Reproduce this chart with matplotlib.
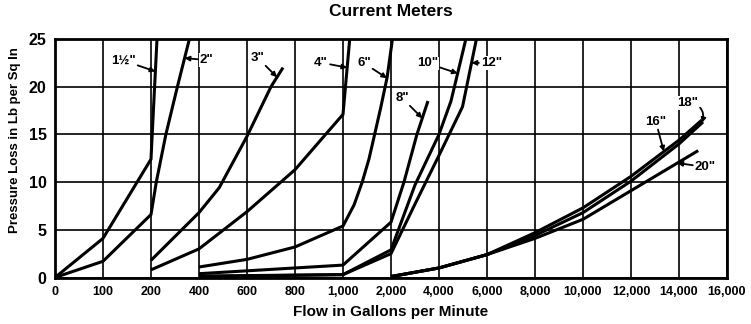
import numpy as np
import matplotlib.pyplot as plt

# x axis is stepped: every tick is the same distance apart
tick_flows = [0, 100, 200, 400, 600, 800, 1000, 2000, 4000, 6000, 8000, 10000, 12000, 14000, 16000]
tick_labels = ['0', '100', '200', '400', '600', '800', '1,000', '2,000', '4,000',
               '6,000', '8,000', '10,000', '12,000', '14,000', '16,000']
y_ticks = [0, 5, 10, 15, 20, 25]

# meter curves (flow gpm, pressure loss psi)
flow_1h = [0, 100, 200, 205, 225]
loss_1h = [0, 4.1, 12.4, 15, 25]
flow_2 = [0, 100, 200, 222, 262, 310, 360]
loss_2 = [0, 1.7, 6.6, 10, 15, 20, 25]
flow_3 = [200, 400, 484, 600, 700, 750]
loss_3 = [1.8, 6.8, 9.4, 14.8, 20, 22]
flow_4 = [200, 400, 600, 800, 1000, 1140]
loss_4 = [0.8, 3.0, 6.9, 11.3, 17.1, 25]
flow_6 = [400, 600, 800, 1000, 1230, 1400, 1540, 1650, 1790, 1920, 2060]
loss_6 = [1.1, 1.9, 3.2, 5.4, 7.6, 10.0, 12.4, 14.8, 17.9, 21.0, 25]
flow_8 = [400, 1000, 2000, 2540, 3080, 3540]
loss_8 = [0.4, 1.3, 5.8, 10, 15, 18.5]
flow_10 = [400, 1000, 2000, 3000, 4000, 4500, 5120]
loss_10 = [0.15, 0.3, 2.9, 9.7, 15.0, 18.5, 25]
flow_12 = [400, 1000, 2000, 3000, 4000, 4980, 5560]
loss_12 = [0.1, 0.3, 2.5, 7.7, 12.8, 17.9, 25]
flow_16 = [2000, 4000, 6000, 8000, 10000, 12000, 14000, 14950]
loss_16 = [0.1, 1.0, 2.4, 4.7, 7.3, 10.6, 14.4, 16.5]
flow_18 = [2000, 4000, 6000, 8000, 10000, 12000, 14000, 15000]
loss_18 = [0.1, 1.0, 2.4, 4.4, 6.8, 10.1, 14.0, 16.3]
flow_20 = [2000, 4000, 6000, 8000, 10000, 12000, 14000, 14800]
loss_20 = [0.1, 1.0, 2.4, 4.1, 6.1, 9.1, 12.1, 13.3]

meters = [
    ('1½"', flow_1h, loss_1h),
    ('2"', flow_2, loss_2),
    ('3"', flow_3, loss_3),
    ('4"', flow_4, loss_4),
    ('6"', flow_6, loss_6),
    ('8"', flow_8, loss_8),
    ('10"', flow_10, loss_10),
    ('12"', flow_12, loss_12),
    ('16"', flow_16, loss_16),
    ('18"', flow_18, loss_18),
    ('20"', flow_20, loss_20),
]

# label: pressure where the arrow hits the curve, text offset (px), arrow bend
label_spots = {
    '1½"': (21.6, (-32, 11), 0.0),
    '2"': (23.0, (22, -2), 0.0),
    '3"': (21.0, (-19, 19), 0.0),
    '4"': (22.0, (-26, 5), 0.0),
    '6"': (20.9, (-23, 15), 0.0),
    '8"': (16.7, (-20, 20), 0.0),
    '10"': (21.4, (-30, 10), 0.0),
    '12"': (22.5, (20, 0), 0.0),
    '16"': (13.2, (-8, 30), 0.0),
    '18"': (16.2, (-14, 20), -0.6),
    '20"': (12.0, (28, -4), 0.0),
}

idx = np.arange(len(tick_flows))


def fwd(x):
    return np.interp(x, tick_flows, idx)


def inv(i):
    return np.interp(i, idx, tick_flows)


bold = dict(family=['Liberation Sans', 'DejaVu Sans'], weight='bold')

fig = plt.figure(figsize=(7.51, 3.24), dpi=100)
ax = fig.add_axes([55 / 751, 1 - 277.5 / 324, 672 / 751, 238.5 / 324])
ax.set_xscale('function', functions=(fwd, inv))
ax.set_xlim(0, 16000)
ax.set_ylim(0, 25)

ax.set_xticks(tick_flows)
ax.set_xticklabels(tick_labels, fontsize=9, **bold)
ax.set_yticks(y_ticks)
ax.set_yticklabels([str(v) for v in y_ticks], fontsize=11.5, **bold)
ax.minorticks_off()
ax.tick_params(length=0, pad=6)
ax.grid(True, color='black', lw=1.2)
ax.set_axisbelow(True)
for s in ax.spines.values():
    s.set_linewidth(2)

for name, fl, ls in meters:
    ax.plot(fl, ls, color='black', lw=2.2, solid_capstyle='butt', solid_joinstyle='miter')
    p, off, rad = label_spots[name]
    tx = inv(np.interp(p, ls, fwd(np.array(fl, dtype=float))))
    ax.annotate(name, xy=(tx, p), xytext=off, textcoords='offset pixels',
                ha='center', va='center', fontsize=9.5, **bold,
                arrowprops=dict(arrowstyle='-|>', color='black', lw=1.3,
                                mutation_scale=7, shrinkA=1, shrinkB=0,
                                connectionstyle='arc3,rad=%s' % rad),
                bbox=dict(boxstyle='square,pad=0.05', fc='white', ec='none'))

fig.text(391 / 751, 1 - 12 / 324, 'Current Meters', ha='center', va='center',
         fontsize=12.5, **bold)
fig.text(391 / 751, 1 - 312 / 324, 'Flow in Gallons per Minute', ha='center',
         va='center', fontsize=11, **bold)
fig.text(15 / 751, 1 - 140 / 324, 'Pressure Loss in Lb per Sq In', ha='center',
         va='center', rotation=90, fontsize=9.5, **bold)

fig.savefig('out.png', dpi=100)
